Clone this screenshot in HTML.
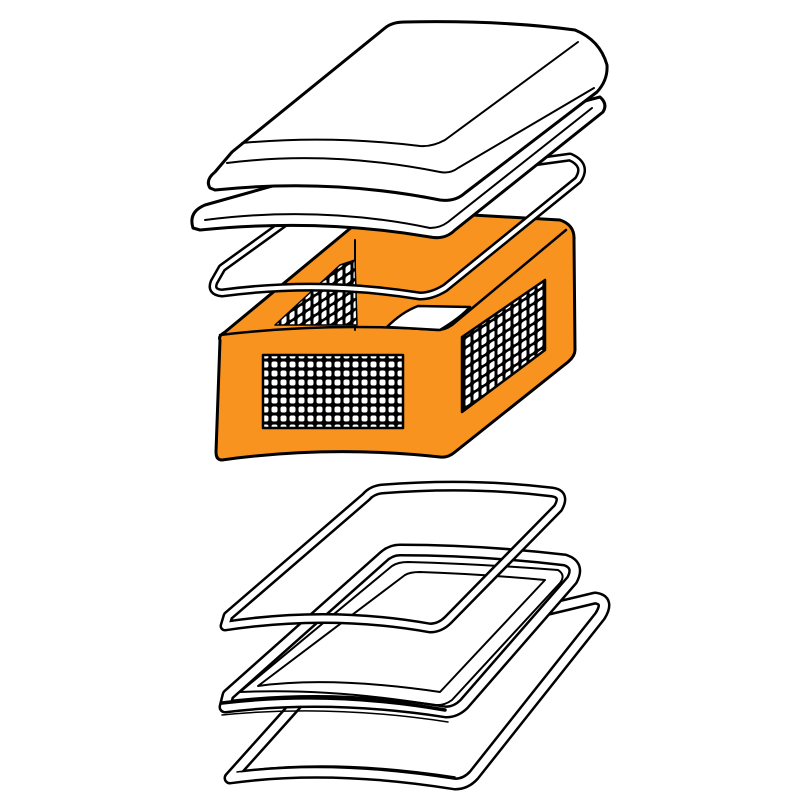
<!DOCTYPE html>
<html><head><meta charset="utf-8"><style>html,body{margin:0;padding:0;background:#fff}svg{display:block}</style></head>
<body>
<svg width="802" height="802" viewBox="0 0 802 802" xmlns="http://www.w3.org/2000/svg">
<defs>
<pattern id="mesh" width="9" height="9" patternUnits="userSpaceOnUse">
<rect width="9" height="9" fill="#000"/>
<rect x="1.5" y="1.5" width="6" height="6" rx="2" fill="#fff"/>
</pattern>
<pattern id="mesh2" width="8" height="10" patternUnits="userSpaceOnUse" patternTransform="skewY(-33)">
<rect width="8" height="10" fill="#000"/>
<rect x="1.5" y="1.5" width="5" height="7" rx="1.5" fill="#fff"/>
</pattern>
</defs>
<g stroke="#000" stroke-width="3" stroke-linejoin="round" stroke-linecap="round">

<!-- bottom ring 3 -->
<path d="M230,778 Q330,764 455,784 Q466,784 474,775 L600,616 Q610,600 595,598 L420,640 L300,700 Z" fill="none" stroke-width="13"/>
<path d="M230,778 Q330,764 455,784 Q466,784 474,775 L600,616 Q610,600 595,598 L420,640 L300,700 Z" fill="none" stroke="#fff" stroke-width="8"/>
<path d="M237,772 Q330,758 455,777" fill="none" stroke-width="1.5"/>

<!-- bottom ring 2 -->
<path d="M225,707 Q330,694 446,712 Q456,712 464,704 L572,580 Q580,565 565,560 Q480,550 400,550 Q390,550 382,558 L228,695 Z" fill="#fff" stroke="none"/>
<path d="M225,707 Q330,694 446,712 Q456,712 464,704 L572,580 Q580,565 565,560 Q480,550 400,550 Q390,550 382,558 L228,695 Z" fill="none" stroke-width="13"/>
<path d="M225,707 Q330,694 446,712 Q456,712 464,704 L572,580 Q580,565 565,560 Q480,550 400,550 Q390,550 382,558 L228,695 Z" fill="none" stroke="#fff" stroke-width="8"/>
<path d="M240,692 L392,566 Q398,562 408,562 Q480,564 558,570 Q566,575 560,583 L452,700 Q444,706 434,705 Q330,688 240,692 Z" fill="none" stroke-width="2"/>
<path d="M258,686 L405,575 Q410,572 420,572 Q480,574 545,580 L440,692 Q330,676 258,686 Z" fill="none" stroke-width="2"/>
<path d="M222,703 Q330,690 445,710" fill="none" stroke-width="3.5"/>
<path d="M222,715 Q330,704 448,722" fill="none" stroke-width="1.5"/>

<!-- bottom ring 1 (open frame) -->
<path d="M225,626 Q330,610 430,628 Q440,628 448,620 L558,508 Q566,494 552,492 Q470,482 382,489 Q372,490 366,497 L228,616 Z" fill="none" stroke-width="11"/>
<path d="M225,626 Q330,610 430,628 Q440,628 448,620 L558,508 Q566,494 552,492 Q470,482 382,489 Q372,490 366,497 L228,616 Z" fill="none" stroke="#fff" stroke-width="6"/>

<!-- orange box -->
<path d="M220,340 Q218,336 225,332 L370,212 Q375,208 385,210 L560,220 Q575,225 574,240 L575,350 Q575,356 568,362 L455,452 Q448,458 440,457 Q330,445 222,460 Q216,460 216,452 Z" fill="#F7931E" stroke-width="3"/>
<path d="M220,335 Q330,322 437,330 Q445,330 452,325 L566,230" fill="none" stroke-width="2.5"/>
<path d="M387,327 Q402,312 418,306 L470,307 Q460,318 440,330 Z" fill="#fff" stroke-width="2.5"/>
<path d="M355,240 L355,330" fill="none" stroke-width="2"/>
<path d="M275,325 L340,265 L355,260 L357,325 Z" fill="url(#mesh2)" stroke-width="1.5"/>
<rect x="263" y="355" width="140" height="73" fill="url(#mesh)" stroke-width="2.5"/>
<path d="M462,337 L545,280 L545,350 L462,412 Z" fill="url(#mesh2)" stroke-width="2.5"/>

<!-- upper wire frame 2 -->
<path d="M214,282 Q210,292 222,293 Q320,280 420,296 Q432,296 445,288 L578,180 Q588,165 570,157 L330,190 L222,268 Z" fill="none" stroke-width="9"/>
<path d="M214,282 Q210,292 222,293 Q320,280 420,296 Q432,296 445,288 L578,180 Q588,165 570,157 L330,190 L222,268 Z" fill="none" stroke="#fff" stroke-width="4"/>

<!-- lid seal frame 1 -->
<path d="M193,228 Q188,212 205,205 L400,150 L600,97 Q608,104 603,112 L455,230 Q445,240 430,237 Q320,218 200,230 Z" fill="#fff" stroke-width="3"/>
<path d="M205,220 Q320,205 430,228 Q440,228 448,222 L592,108" fill="none" stroke-width="2"/>

<!-- lid -->
<path d="M210,188 Q205,180 215,172 L232,152 L385,28 Q392,22 405,22 Q500,20 575,30 Q600,40 607,65 Q608,80 597,92 L465,193 Q455,202 440,200 Q330,178 215,190 Z" fill="#fff" stroke-width="3"/>
<path d="M242,143 Q330,135 420,146 Q432,147 445,140 L578,42" fill="none" stroke-width="2"/>
<path d="M227,163 Q330,150 440,172 Q450,174 458,168 L594,88" fill="none" stroke-width="2"/>
</g>
</svg>
</body></html>
